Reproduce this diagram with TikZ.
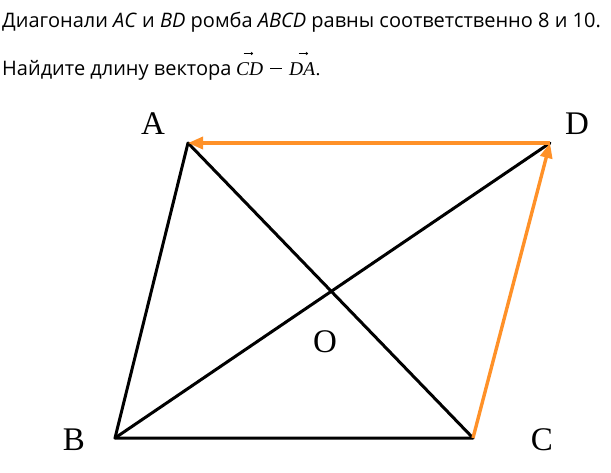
\documentclass[tikz,border=0pt]{standalone}
\usepackage{fontspec}
\setmainfont{Open Sans}
\newfontfamily\labfont{Liberation Serif}
\usetikzlibrary{arrows.meta}
\definecolor{vecorange}{RGB}{255,145,40}
\begin{document}
\begin{tikzpicture}[x=1pt,y=-1pt,
  side/.style={line width=3pt,black,line cap=round,line join=round},
  vecline/.style={line width=3.4pt,vecorange,-{Triangle[length=15pt,width=12pt]}},
  ptlabel/.style={font=\labfont\fontsize{33}{33}\selectfont,inner sep=0pt},
  textline/.style={font=\fontsize{20}{24}\selectfont,inner sep=0pt,anchor=base west},
  mathtxt/.style={font=\labfont\itshape\fontsize{19.5}{22}\selectfont,inner sep=0pt,anchor=base west},
  vecarrow/.style={line width=0.6pt,-{Straight Barb[length=1.8pt,width=3pt]}}]
\useasboundingbox (0,0) rectangle (611,472);
\node[textline] (t1) at (2,27) {Диагонали \textit{AC} и \textit{BD} ромба \textit{ABCD} равны соответственно 8 и 10.};
\node[textline] (t2) at (2,75) {Найдите длину вектора};
\node[mathtxt] (cd) at (236,75) {CD};
\node[mathtxt] (mn) at (270,75) {\rule[5.6pt]{12pt}{1.1pt}};
\node[mathtxt] (da) at (289,75) {DA};
\node[mathtxt,font=\labfont\fontsize{19.5}{22}\selectfont] (pt) at (da.base east) {.};
\draw[vecarrow] ([shift={(-6,-21.5)}]cd.base) -- ([shift={(3.5,-21.5)}]cd.base);
\draw[vecarrow] ([shift={(-3.5,-21.5)}]da.base) -- ([shift={(6,-21.5)}]da.base);
\coordinate (A) at (188,143);
\coordinate (D) at (550,143);
\coordinate (B) at (115,438);
\coordinate (C) at (473,438);
\coordinate (O) at (332,292);
\draw[side] (A) -- (B) -- (C);
\draw[side] (A) -- (C);
\draw[side] (B) -- (D);
\draw[vecline] (D) -- (A);
\draw[vecline] (C) -- (D);
\node[ptlabel] (la) at (153,124) {A};
\node[ptlabel] (ld) at (577,124) {D};
\node[ptlabel] (lb) at (74,440) {B};
\node[ptlabel] (lc) at (542,440) {C};
\node[ptlabel] (lo) at (325,342) {O};
\end{tikzpicture}
\end{document}
